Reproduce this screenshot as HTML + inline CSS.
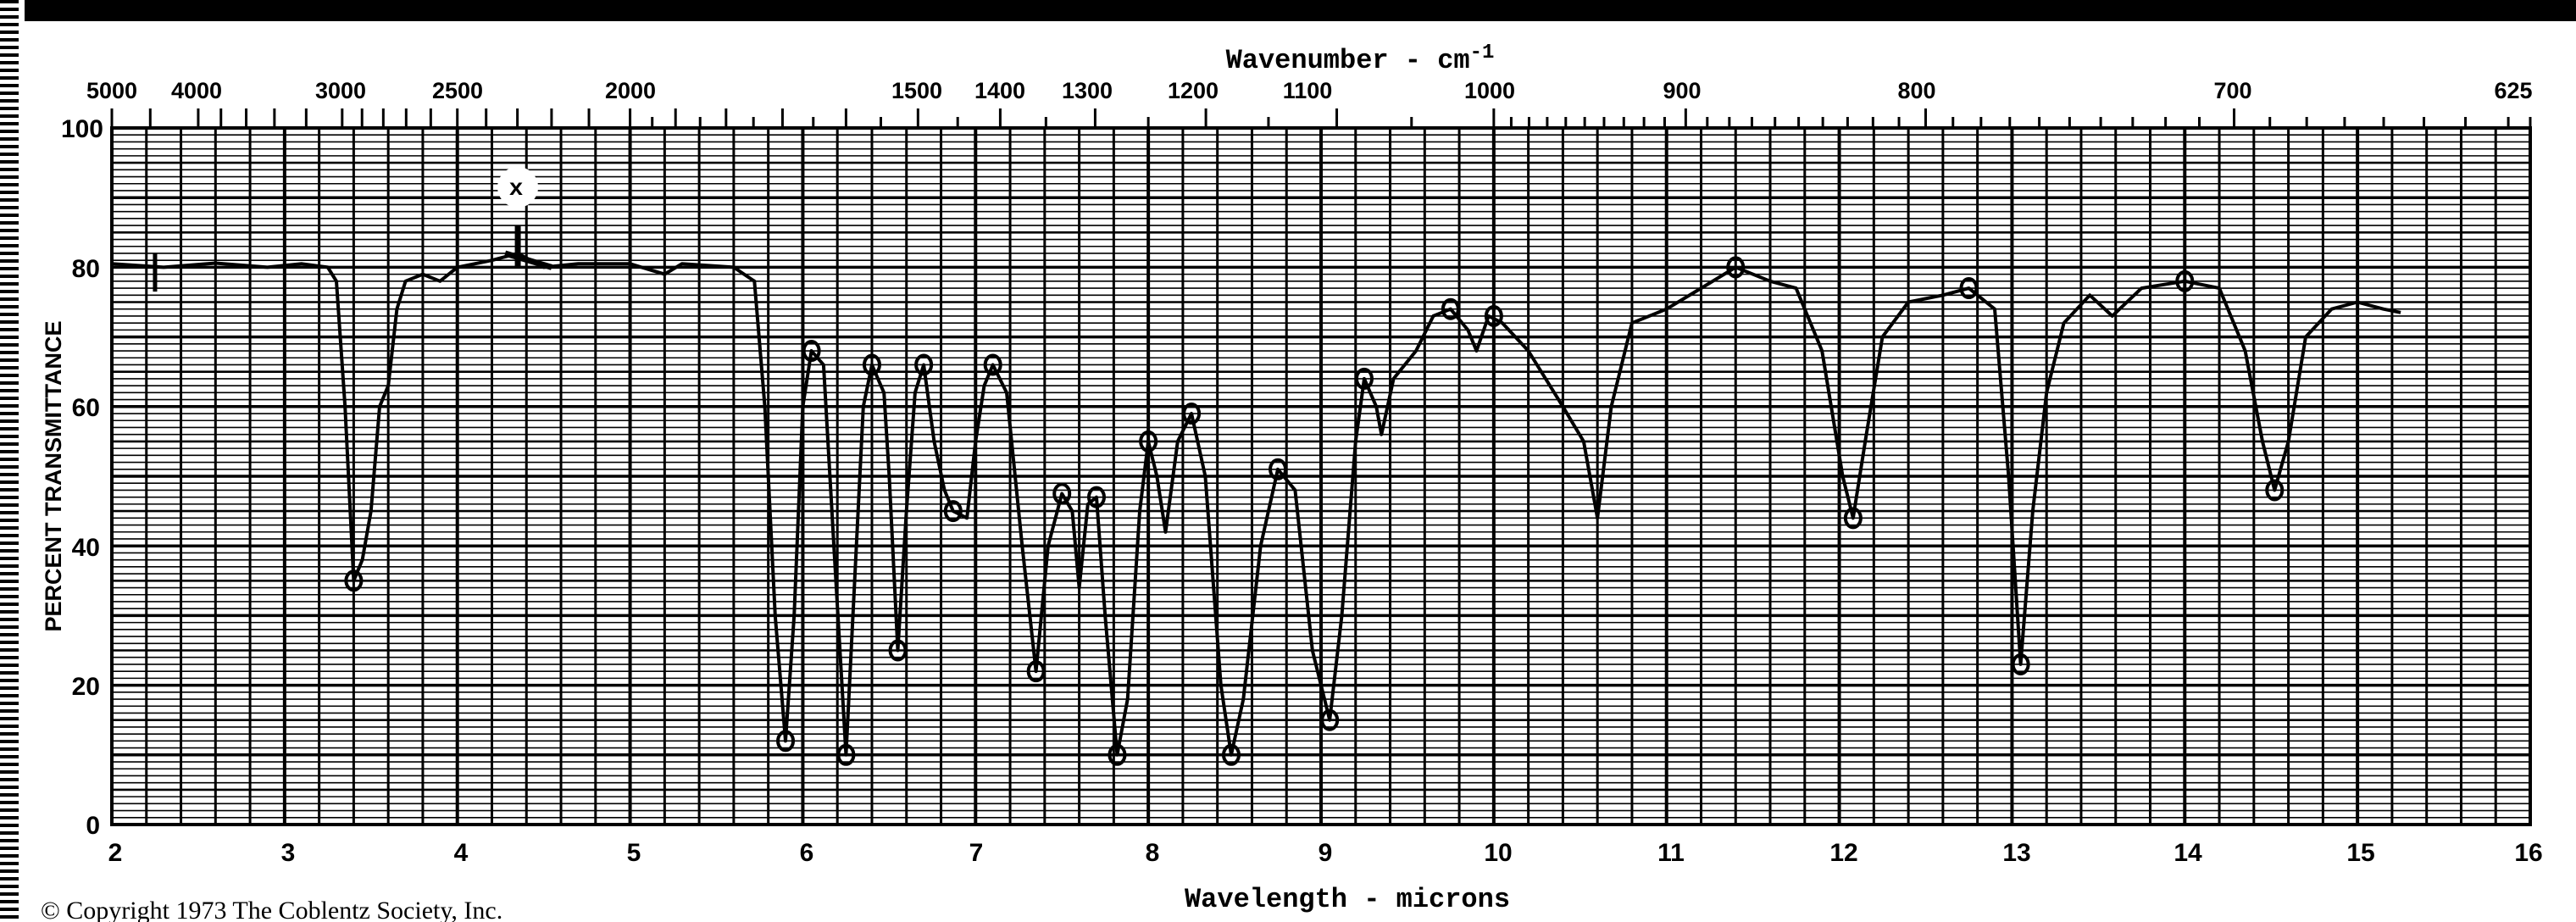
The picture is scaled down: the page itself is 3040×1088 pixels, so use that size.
<!DOCTYPE html>
<html><head><meta charset="utf-8">
<style>
html,body{margin:0;padding:0;background:#fff;}
body{width:3040px;height:1088px;position:relative;overflow:hidden;}
#bar{position:absolute;left:29px;top:0;width:3011px;height:25px;background:#000;}
#stripe{position:absolute;left:0;top:0;width:22px;height:1088px;
 background:repeating-linear-gradient(to bottom,#000 0,#000 4px,#fff 4px,#fff 9px);}
svg{position:absolute;left:0;top:0;}
.t{font-family:"Liberation Sans",sans-serif;font-weight:bold;fill:#000;}
.m{font-family:"Liberation Mono",monospace;font-weight:bold;fill:#000;}
</style></head><body>
<div id="stripe"></div>
<div id="bar"></div>
<svg id="s" width="3040" height="1088" viewBox="0 0 3040 1088">
<g id="grid"></g>
<g id="ticks"></g>
<g id="curve"></g>
<text class="m" x="1605" y="80" font-size="32" text-anchor="middle">Wavenumber - cm<tspan font-size="24" dy="-12">-1</tspan></text>
<g class="t" font-size="27" text-anchor="middle">
<text x="132" y="116">5000</text><text x="232" y="116">4000</text>
<text x="402" y="116">3000</text><text x="540" y="116">2500</text>
<text x="744" y="116">2000</text><text x="1082" y="116">1500</text>
<text x="1180" y="116">1400</text><text x="1283" y="116">1300</text>
<text x="1408" y="116">1200</text><text x="1543" y="116">1100</text>
<text x="1758" y="116">1000</text><text x="1985" y="116">900</text>
<text x="2262" y="116">800</text><text x="2635" y="116">700</text>
<text x="2966" y="116">625</text>
</g>
<g class="t" font-size="30" text-anchor="end">
<text x="122" y="162">100</text><text x="118" y="327">80</text>
<text x="118" y="491">60</text><text x="118" y="656">40</text>
<text x="118" y="820">20</text><text x="118" y="984">0</text>
</g>
<text class="t" font-size="27" transform="translate(72,562) rotate(-90)" text-anchor="middle">PERCENT  TRANSMITTANCE</text>
<g class="t" font-size="30" text-anchor="middle">
<text x="136" y="1016">2</text><text x="340" y="1016">3</text>
<text x="544" y="1016">4</text><text x="748" y="1016">5</text>
<text x="952" y="1016">6</text><text x="1152" y="1016">7</text>
<text x="1360" y="1016">8</text><text x="1564" y="1016">9</text>
<text x="1768" y="1016">10</text><text x="1972" y="1016">11</text>
<text x="2176" y="1016">12</text><text x="2380" y="1016">13</text>
<text x="2582" y="1016">14</text><text x="2786" y="1016">15</text>
<text x="2984" y="1016">16</text>
</g>
<text class="m" x="1590" y="1070" font-size="32" text-anchor="middle">Wavelength - microns</text>
<text x="48" y="1084" font-size="30" font-family="'Liberation Serif',serif">© Copyright 1973  The Coblentz Society, Inc.</text>
</svg>
<script>
var NS="http://www.w3.org/2000/svg";
var L=132,R=2986,T=151,B=973;
function X(l){return L+(l-2)*(R-L)/14;}
function Y(t){return B-t*(B-T)/100;}
function el(p,n,a){var e=document.createElementNS(NS,n);for(var k in a)e.setAttribute(k,a[k]);p.appendChild(e);return e;}
var g=document.getElementById('grid');
for(var i=0;i<=100;i++){var y=Y(i);var w=(i%10==0)?3.5:(i%5==0?2.6:1.6);
 el(g,'line',{x1:L,x2:R,y1:y,y2:y,stroke:'#000','stroke-width':w});}
for(var i=0;i<=70;i++){var x=X(2+i*0.2);var w=(i%5==0)?4:3;
 el(g,'line',{x1:x,x2:x,y1:T,y2:B,stroke:'#000','stroke-width':w});}
el(g,'rect',{x:L,y:T,width:R-L,height:B-T,fill:'none',stroke:'#000','stroke-width':4});
var tk=document.getElementById('ticks');var wn=[];
for(var v=5000;v>2000;v-=(v>4000?500:(v>3000?200:100)))wn.push(v);
for(var v=2000;v>1000;v-=50)wn.push(v);
for(var v=1000;v>=630;v-=10)wn.push(v);wn.push(625);
wn.forEach(function(v){var x=X(10000/v);var maj=(v%100==0);
 el(tk,'line',{x1:x,x2:x,y1:maj?128:138,y2:T,stroke:'#000','stroke-width':3});});
var d=[[2,80.5],[2.3,80],[2.6,80.6],[2.9,80],[3.1,80.5],[3.25,80],[3.3,78],[3.35,60],[3.4,35],[3.45,38],[3.5,45],[3.55,60],[3.6,63],[3.65,74],[3.7,78],[3.8,79],[3.9,78],[4.0,80],[4.2,81],[4.35,82],[4.5,80],[4.7,80.5],[5.0,80.5],[5.2,79],[5.3,80.5],[5.6,80],[5.72,78],[5.78,60],[5.84,30],[5.9,12],[5.95,30],[6.0,60],[6.05,68],[6.12,66],[6.18,40],[6.25,10],[6.3,35],[6.35,60],[6.4,66],[6.47,62],[6.5,50],[6.55,25],[6.6,45],[6.65,62],[6.7,66],[6.76,55],[6.82,48],[6.87,45],[6.95,44],[7.0,55],[7.05,63],[7.1,66],[7.18,62],[7.27,40],[7.35,22],[7.42,40],[7.5,47.5],[7.56,45],[7.6,34],[7.65,46],[7.7,47],[7.75,30],[7.82,10],[7.88,18],[7.95,45],[8.0,55],[8.05,50],[8.1,42],[8.17,55],[8.25,59],[8.33,50],[8.42,20],[8.48,10],[8.55,18],[8.65,40],[8.75,51],[8.85,48],[8.95,25],[9.05,15],[9.12,30],[9.2,55],[9.25,64],[9.32,60],[9.35,56],[9.42,64],[9.55,68],[9.65,73],[9.75,74],[9.85,71],[9.9,68],[9.97,73],[10.05,72],[10.2,68],[10.4,60],[10.52,55],[10.6,44],[10.68,60],[10.8,72],[11.0,74],[11.2,77],[11.4,80],[11.6,78],[11.75,77],[11.9,68],[12.02,50],[12.08,44],[12.15,55],[12.25,70],[12.4,75],[12.6,76],[12.75,77],[12.9,74],[12.98,50],[13.05,23],[13.12,45],[13.2,62],[13.3,72],[13.45,76],[13.58,73],[13.75,77],[14.0,78],[14.2,77],[14.35,68],[14.45,55],[14.52,48],[14.6,55],[14.7,70],[14.85,74],[15.0,75],[15.15,74],[15.25,73.5]];
var c=document.getElementById('curve');
var p=d.map(function(q,i){return (i?'L':'M')+X(q[0]).toFixed(1)+' '+Y(q[1]).toFixed(1);}).join(' ');
el(c,'path',{d:p,fill:'none',stroke:'#000','stroke-width':4,'stroke-linejoin':'round'});
[[3.4,35],[5.9,12],[6.05,68],[6.25,10],[6.4,66],[6.55,25],[6.7,66],[6.87,45],[7.1,66],[7.35,22],[7.5,47.5],[7.7,47],[7.82,10],[8.0,55],[8.25,59],[8.48,10],[8.75,51],[9.05,15],[9.25,64],[9.75,74],[10.0,73],[11.4,80],[12.08,44],[12.75,77],[13.05,23],[14.0,78],[14.52,48]].forEach(function(q){
 el(c,'ellipse',{cx:X(q[0]),cy:Y(q[1]),rx:9,ry:11,fill:'none',stroke:'#000','stroke-width':4});});
el(c,'circle',{cx:X(4.35),cy:Y(91.5),r:24,fill:'#fff'});
el(c,'path',{d:'M'+(X(4.35)-15)+' '+(Y(82))+' L'+(X(4.35)+40)+' '+(Y(80))+' M'+X(4.35)+' '+Y(86)+' L'+X(4.35)+' '+Y(80),stroke:'#000','stroke-width':7,fill:'none'});
el(c,'line',{x1:X(2.25),x2:X(2.25),y1:Y(82),y2:Y(76.5),stroke:'#000','stroke-width':5});
</script>
<svg width="3040" height="1088" style="pointer-events:none"><text x="609" y="230" font-size="28" class="m" text-anchor="middle">x</text></svg>
</body></html>
